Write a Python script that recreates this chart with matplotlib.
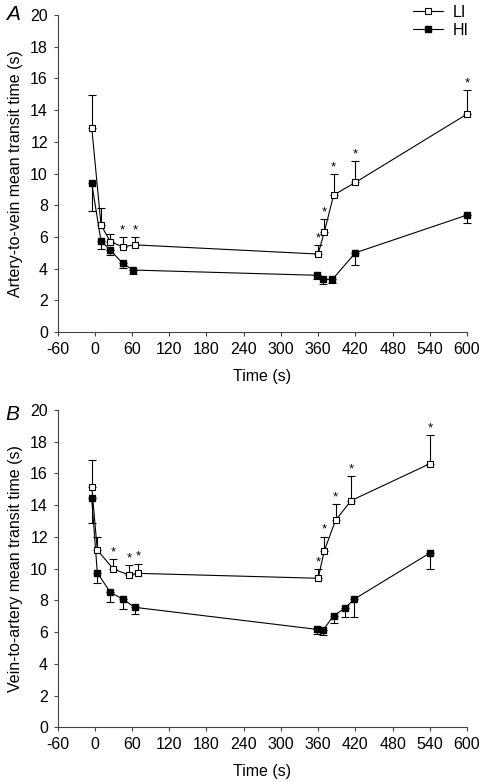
import numpy as np
import matplotlib.pyplot as plt
from matplotlib.lines import Line2D

plt.rcParams['font.family'] = ['Liberation Sans', 'DejaVu Sans']
plt.rcParams['axes.unicode_minus'] = False

# panel A: artery-to-vein
a_li_t = [-5, 10, 25, 45, 65, 360, 370, 385, 420, 600]
a_li_y = [12.9, 6.75, 5.7, 5.38, 5.5, 4.92, 6.33, 8.64, 9.44, 13.75]
a_li_err = [2.05, 1.1, 0.5, 0.62, 0.47, 0.57, 0.8, 1.33, 1.35, 1.52]
a_li_star = [False, False, False, True, True, True, True, True, True, True]

a_hi_t = [-5, 10, 25, 45, 62, 358, 368, 383, 420, 600]
a_hi_y = [9.38, 5.74, 5.17, 4.33, 3.91, 3.58, 3.32, 3.32, 5.0, 7.38]
a_hi_err = [1.75, 0.5, 0.31, 0.27, 0.25, 0.26, 0.32, 0.21, 0.77, 0.52]

# panel B: vein-to-artery
b_li_t = [-5, 4, 30, 55, 70, 360, 370, 388, 413, 540]
b_li_y = [15.16, 11.17, 9.97, 9.6, 9.7, 9.39, 11.13, 13.04, 14.28, 16.61]
b_li_err = [1.66, 0.84, 0.61, 0.63, 0.61, 0.57, 0.88, 1.03, 1.57, 1.79]
b_li_star = [False, False, True, True, True, True, True, True, True, True]

b_hi_t = [-5, 4, 25, 46, 64, 358, 368, 385, 403, 418, 540]
b_hi_y = [14.43, 9.74, 8.5, 8.06, 7.56, 6.17, 6.13, 7.03, 7.5, 8.07, 10.98]
b_hi_err = [1.54, 0.67, 0.62, 0.61, 0.44, 0.27, 0.29, 0.48, 0.53, 1.12, 1.02]

xticks = np.arange(-60, 601, 60)
fs = 11.5

fig = plt.figure(figsize=(4.8, 7.82), dpi=100)
axA = fig.add_axes([0.12, 0.5754, 0.853, 0.4054])
axB = fig.add_axes([0.12, 0.0700, 0.853, 0.4058])


def draw(ax, lt, ly, le, ls, ht, hy, he, ylabel):
    ax.errorbar(ht, hy, yerr=[he, [0] * len(he)], color='black', lw=0.8,
                marker='s', ms=4.5, mfc='black', mec='black', capsize=2.6,
                elinewidth=0.8, capthick=0.8, zorder=2, clip_on=False)
    ax.errorbar(lt, ly, yerr=[[0] * len(le), le], color='black', lw=0.8,
                marker='s', ms=4.5, mfc='white', mec='black', mew=0.8,
                capsize=2.6, elinewidth=0.8, capthick=0.8, zorder=3,
                clip_on=False)
    for t, y, e, s in zip(lt, ly, le, ls):
        if s:
            ax.text(t, y + e + 0.05, '*', ha='center', va='bottom', fontsize=9.5)
    ax.set_xlim(-60, 600)
    ax.set_ylim(0, 20)
    ax.set_xticks(xticks)
    ax.set_yticks(np.arange(0, 21, 2))
    ax.spines['top'].set_visible(False)
    ax.spines['right'].set_visible(False)
    for sp in ['left', 'bottom']:
        ax.spines[sp].set_linewidth(0.8)
        ax.spines[sp].set_color('#444444')
    ax.tick_params(direction='out', length=3, width=0.8, color='#444444',
                   labelsize=fs, pad=4)
    ax.set_xlabel('Time (s)', fontsize=fs, labelpad=9)
    ax.set_ylabel(ylabel, fontsize=fs, labelpad=5)


draw(axA, a_li_t, a_li_y, a_li_err, a_li_star, a_hi_t, a_hi_y, a_hi_err,
     'Artery-to-vein mean transit time (s)')
draw(axB, b_li_t, b_li_y, b_li_err, b_li_star, b_hi_t, b_hi_y, b_hi_err,
     'Vein-to-artery mean transit time (s)')

fig.text(0.012, 0.982, 'A', fontsize=15, style='italic', va='center')
fig.text(0.012, 0.470, 'B', fontsize=15, style='italic', va='center')

handles = [Line2D([], [], color='black', lw=0.8, marker='s', ms=4.5,
                  mfc='white', mec='black', mew=0.8),
           Line2D([], [], color='black', lw=0.8, marker='s', ms=4.5,
                  mfc='black', mec='black')]
fig.legend(handles, ['LI', 'HI'], loc='upper right',
           bbox_to_anchor=(0.993, 1.004), frameon=False, fontsize=fs,
           handlelength=1.9, handletextpad=0.6, labelspacing=0.2,
           borderpad=0)

fig.savefig('out.png', dpi=100)
